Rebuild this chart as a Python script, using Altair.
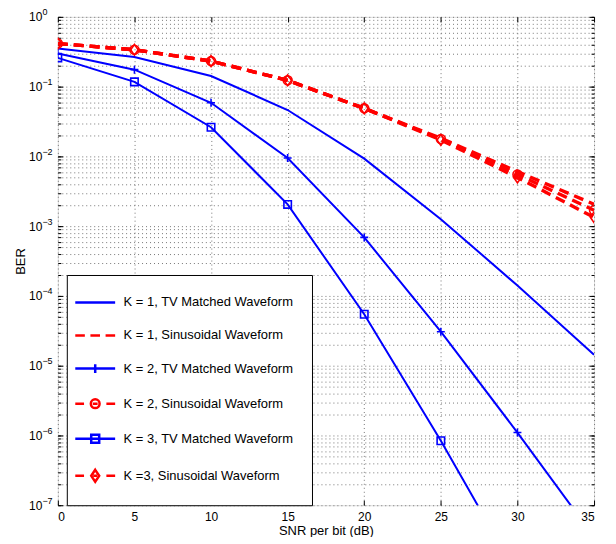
import altair as alt
import pandas as pd

# ---- data ----
snr = [0, 5, 10, 15, 20, 25, 30, 35]
k1_tv = [0.352, 0.265, 0.142, 0.0462, 0.00927, 0.00126, 1.41e-4, 1.43e-5]
k2_tv = [0.299, 0.175, 0.0586, 0.00948, 6.9e-4, 3.07e-5, 1.1e-6, 3.5e-8]
k3_tv = [0.258, 0.117, 0.0262, 0.00205, 5.47e-5, 8.4e-7, 1.0e-8, 5.0e-11]
k1_sin = [0.414, 0.337, 0.232, 0.123, 0.0488, 0.0182, 0.00605, 0.00206]
k2_sin = [0.414, 0.337, 0.232, 0.123, 0.0488, 0.0177, 0.0055, 0.00169]
k3_sin = [0.414, 0.337, 0.232, 0.123, 0.0488, 0.0172, 0.00498, 0.00134]

series_names = [
    "K = 1, TV Matched Waveform",
    "K = 1, Sinusoidal Waveform",
    "K = 2, TV Matched Waveform",
    "K = 2, Sinusoidal Waveform",
    "K = 3, TV Matched Waveform",
    "K =3, Sinusoidal Waveform",
]
series_colors = ["#0000ff", "#ff0000", "#0000ff", "#ff0000", "#0000ff", "#ff0000"]
x_ticks = [0, 5, 10, 15, 20, 25, 30, 35]
y_decades = [1, 1e-1, 1e-2, 1e-3, 1e-4, 1e-5, 1e-6, 1e-7]
y_base_label = "10"
y_exponents = ["0", "−1", "−2", "−3", "−4", "−5", "−6", "−7"]

# legend symbols (line + marker); symbol size 256 -> 1 unit = 8 px
legend_paths = [
    "M-2.5,0H2.5",
    "M-2.5,0H-1.3M-0.6,0H0.6M1.3,0H2.5",
    "M-2.5,0H2.5M0,-0.55V0.55",
    "M-2.5,0H-1.4M1.4,0H2.5M0.55,0A0.55,0.55,0,1,1,-0.55,0A0.55,0.55,0,1,1,0.55,0M-0.3,0H0.3",
    "M-2.5,0H2.5M-0.5,-0.5H0.5V0.5H-0.5Z",
    "M-2.5,0H-1.4M1.4,0H2.5M0,-0.75L0.5,0L0,0.75L-0.5,0ZM-0.25,0H0.25",
]

rows = []
for name, vals in zip(series_names, [k1_tv, k1_sin, k2_tv, k2_sin, k3_tv, k3_sin]):
    for xv, v in zip(snr, vals):
        rows.append({"snr": xv, "ber": v, "series": name})
df = pd.DataFrame(rows)

# y grid / minor ticks at every decade step
y_grid = []
for e in range(-7, 1):
    for d in range(1, 10):
        v = d * 10.0 ** e
        if v <= 1.0000001:
            y_grid.append(v)

FONT = "Liberation Sans"
is_decade = "abs(log(datum.value)/LN10 - round(log(datum.value)/LN10)) < 0.001"
base_expr = is_decade + " ? '" + y_base_label + "' : ''"
exp_expr = (
    "[" + ",".join("'" + s + "'" for s in y_exponents) + "][-round(log(datum.value)/LN10)]"
)

xscale = alt.Scale(domain=[0, 35], nice=False, zero=False)
yscale = alt.Scale(type="log", domain=[1e-7, 1], nice=False)

x_enc = alt.X(
    "snr:Q",
    scale=xscale,
    axis=alt.Axis(
        values=x_ticks, title="SNR per bit (dB)", grid=True, gridDash=[1, 3],
        gridColor="#777777", ticks=False, domain=False, labelFontSize=12,
        labelFont=FONT, titleFont=FONT, titleFontSize=13, titleFontWeight="normal",
        labelPadding=6, titlePadding=2, labelColor="black", titleColor="black",
        orient="bottom",
    ),
)
y_enc = alt.Y(
    "ber:Q",
    scale=yscale,
    axis=alt.Axis(
        values=y_grid, labelExpr=base_expr, title="BER", grid=True, gridDash=[1, 3],
        gridColor="#777777", ticks=False, domain=False, labelFontSize=12,
        labelFont=FONT, titleFont=FONT, titleFontSize=13, titleFontWeight="normal",
        labelPadding=16, titlePadding=1, labelColor="black", titleColor="black",
        labelOverlap=False, orient="left",
    ),
)
y_exp_enc = alt.Y(
    "ber:Q",
    scale=yscale,
    axis=alt.Axis(
        values=y_decades, labelExpr=exp_expr, title=None, grid=False, ticks=False,
        domain=False, labelFontSize=9, labelFont=FONT, labelAlign="left",
        labelPadding=16, labelOffset=-5, labelColor="black", labelOverlap=False,
        orient="left",
    ),
)
x_plain = alt.X("snr:Q", scale=xscale, axis=None)
y_plain = alt.Y("ber:Q", scale=yscale, axis=None)

color_scale = alt.Scale(domain=series_names, range=series_colors)
leg = alt.Legend(
    title=None, orient="none", legendX=9, legendY=259, strokeColor="black",
    fillColor="white", padding=18, rowPadding=16.2, labelFontSize=13, labelFont=FONT,
    labelColor="black", symbolSize=256, symbolStrokeWidth=2.5, labelOffset=19,
    symbolOffset=1, symbolFillColor="transparent", labelLimit=400,
)
col = alt.Color("series:N", scale=color_scale, legend=leg)
base = alt.Chart(df)
empty = base.transform_filter("false")

tv = [series_names[0], series_names[2], series_names[4]]
sin = [series_names[1], series_names[3], series_names[5]]

# legend-only layer (first, so that its legend settings lead)
legend_layer = empty.mark_point(filled=False, opacity=1).encode(
    color=col,
    shape=alt.Shape("series:N", scale=alt.Scale(domain=series_names, range=legend_paths), legend=leg),
)

solid = base.transform_filter(alt.FieldOneOfPredicate(field="series", oneOf=tv)).mark_line(
    strokeWidth=2, clip=True
).encode(x=x_enc, y=y_enc, color=col, detail="series:N")

dashed = base.transform_filter(alt.FieldOneOfPredicate(field="series", oneOf=sin)).mark_line(
    strokeWidth=3.4, strokeDash=[10, 6], clip=True
).encode(x=x_plain, y=y_plain, color=col, detail="series:N")


def markers(name, shape, size):
    return base.transform_filter(alt.datum.series == name).mark_point(
        shape=shape, size=size, filled=False, strokeWidth=1.6, opacity=1, clip=True
    ).encode(x=x_plain, y=y_plain, color=col)


m_plus = markers(series_names[2], "M-1,0H1M0,-1V1", 64)
m_circ = markers(series_names[3], "circle", 81)
m_sq = markers(series_names[4], "square", 56)
m_dia = markers(series_names[5], "M0,-1.35L0.95,0L0,1.35L-0.95,0Z", 64)

exp_layer = empty.mark_point().encode(y=y_exp_enc)


# inward tick marks on all four sides (axis shifted inward by the tick length)
def tick_axis(orient, values, size):
    return alt.Axis(
        orient=orient, values=values, labels=False, domain=False, grid=False,
        ticks=True, tickSize=size, offset=-size, tickColor="black", tickWidth=1,
        title=None,
    )


tick_layers = []
for orient in ["bottom", "top"]:
    tick_layers.append(empty.mark_point().encode(
        x=alt.X("snr:Q", scale=xscale, axis=tick_axis(orient, x_ticks, 5))))
for orient in ["left", "right"]:
    tick_layers.append(empty.mark_point().encode(
        y=alt.Y("ber:Q", scale=yscale, axis=tick_axis(orient, y_decades, 5))))
    tick_layers.append(empty.mark_point().encode(
        y=alt.Y("ber:Q", scale=yscale, axis=tick_axis(orient, y_grid, 3))))

chart = alt.layer(
    legend_layer, solid, dashed, m_plus, m_circ, m_sq, m_dia, exp_layer, *tick_layers
).resolve_scale(x="shared", y="shared").resolve_axis(
    x="independent", y="independent"
).properties(
    width=538, height=490,
    autosize=alt.AutoSizeParams(type="none"),
    padding={"left": 50, "top": 8, "right": 14, "bottom": 31},
).configure_view(stroke="black", strokeWidth=1.2).configure(background="white")

chart.save("out.html", embed_options={"renderer": "svg", "actions": False})
